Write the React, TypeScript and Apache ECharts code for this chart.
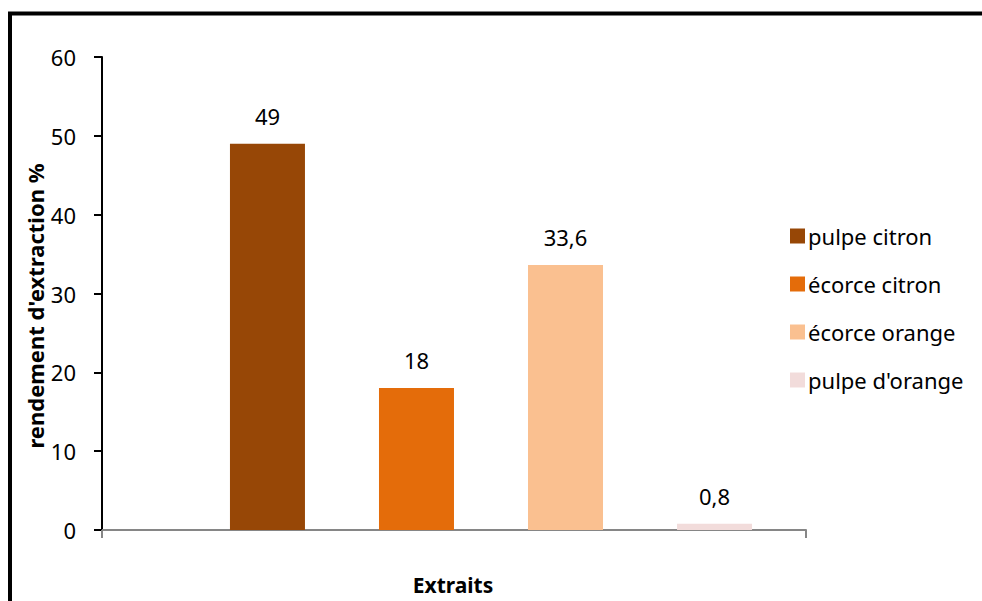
import React, { useEffect, useRef } from "react";
import * as echarts from "echarts";

const categories = ["Extraits"];
const seriesNames = ["pulpe citron", "écorce citron", "écorce orange", "pulpe d'orange"];
const seriesValues = [49, 18, 33.6, 0.8];
const seriesColors = ["#974706", "#E46C0A", "#FAC090", "#F2DCDB"];
const yTicks = { min: 0, max: 60, interval: 10 };
const xAxisTitle = "Extraits";
const yAxisTitle = "rendement d'extraction %";

const FONT = "Noto Sans";

export default function App() {
  const ref = useRef<HTMLDivElement>(null);
  useEffect(() => {
    if (!ref.current) return;
    const chart = echarts.init(ref.current, null, { renderer: "svg" });
    const top = 57;
    const bottom = 71;
    chart.setOption({
      animation: false,
      backgroundColor: "#ffffff",
      textStyle: { fontFamily: FONT },
      graphic: [
        {
          type: "rect",
          shape: { x: 10, y: 13.5, width: 1100, height: 800 },
          style: { fill: "none", stroke: "#000", lineWidth: 4 },
          z: 10,
        },
        {
          type: "text",
          x: 453,
          y: 585,
          style: {
            text: xAxisTitle,
            fontFamily: FONT,
            fontSize: 21,
            fontWeight: "bold",
            fill: "#000",
            align: "center",
            verticalAlign: "middle",
          },
        },
        {
          type: "text",
          x: 35,
          y: 306,
          rotation: Math.PI / 2,
          style: {
            text: yAxisTitle,
            fontFamily: FONT,
            fontSize: 22,
            fontWeight: "bold",
            fill: "#000",
            align: "center",
            verticalAlign: "middle",
          },
        },
      ],
      grid: [
        { left: 102, right: 176, top, bottom, containLabel: false, outerBoundsMode: "none" },
        { left: 176, right: 176, top, bottom, containLabel: false, outerBoundsMode: "none" },
      ],
      legend: {
        orient: "vertical",
        left: 785,
        top: 220,
        itemWidth: 15,
        itemHeight: 15,
        itemGap: 26,
        icon: "rect",
        textStyle: {
          fontFamily: FONT,
          fontSize: 22,
          lineHeight: 22,
          color: "#000",
          padding: [0, 0, 0, -2],
        },
        data: seriesNames,
      },
      xAxis: [
        {
          type: "category",
          gridIndex: 0,
          data: categories,
          boundaryGap: true,
          axisLine: { lineStyle: { color: "#868686", width: 2 } },
          axisTick: { show: true, length: 8, lineStyle: { color: "#868686", width: 2 } },
          axisLabel: { show: false },
        },
        {
          type: "category",
          gridIndex: 1,
          data: categories,
          show: false,
        },
      ],
      yAxis: [
        {
          type: "value",
          gridIndex: 0,
          min: yTicks.min,
          max: yTicks.max,
          interval: yTicks.interval,
          splitLine: { show: false },
          axisLine: { show: true, lineStyle: { color: "#000", width: 2 } },
          axisTick: { show: true, length: 8, lineStyle: { color: "#000", width: 2 } },
          axisLabel: { fontFamily: FONT, fontSize: 22, color: "#000", margin: 26 },
        },
        {
          type: "value",
          gridIndex: 1,
          min: yTicks.min,
          max: yTicks.max,
          interval: yTicks.interval,
          show: false,
          splitLine: { show: false },
        },
      ],
      series: seriesNames.map((name, i) => ({
        name,
        type: "bar",
        xAxisIndex: 1,
        yAxisIndex: 1,
        data: [seriesValues[i]],
        barWidth: 75,
        barGap: "98.7%",
        itemStyle: { color: seriesColors[i] },
        label: {
          show: true,
          position: "top",
          distance: 17,
          fontFamily: FONT,
          fontSize: 22,
          color: "#000",
          formatter: (p: any) => String(p.value).replace(".", ","),
        },
      })),
    });
    return () => chart.dispose();
  }, []);
  return (
    <div
      ref={ref}
      style={{ position: "fixed", left: 0, top: 0, width: 982, height: 601 }}
    />
  );
}
